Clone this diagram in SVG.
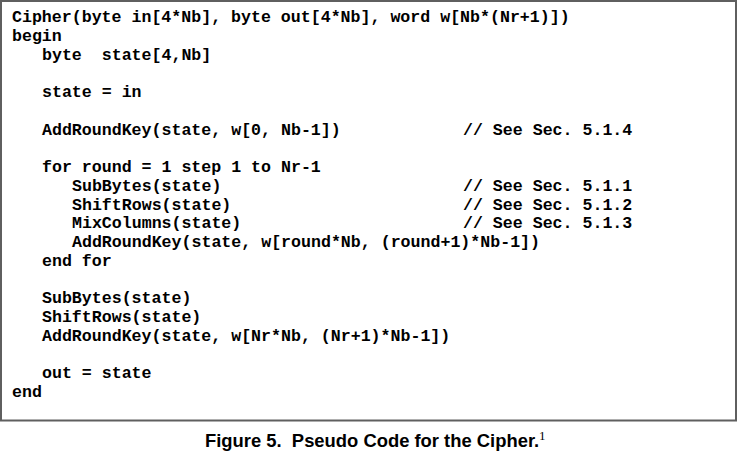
<svg xmlns="http://www.w3.org/2000/svg" width="738" height="453" viewBox="0 0 738 453">
<style>
.c{font-family:"Liberation Mono","Courier New",monospace;font-weight:bold;font-size:16.6px;fill:#000;white-space:pre}
.cap{font-family:"Liberation Sans",Arial,sans-serif;font-weight:bold;font-size:18.4px;fill:#000}
.sup{font-family:"Liberation Serif","Times New Roman",serif;font-size:13px;fill:#000}
</style>
<rect width="738" height="453" fill="#fff"/>
<rect id="frame" x="1" y="1" width="735" height="419.5" fill="none" stroke="#5f5f5f" stroke-width="2"/>
<g id="code">
<text class="c" x="12" y="22">Cipher(byte in[4*Nb], byte out[4*Nb], word w[Nb*(Nr+1)])</text>
<text class="c" x="12" y="40.75">begin</text>
<text class="c" x="42" y="59.5">byte  state[4,Nb]</text>
<text class="c" x="42" y="97">state = in</text>
<text class="c" x="42" y="134.5">AddRoundKey(state, w[0, Nb-1])</text>
<text class="c" x="463" y="134.5">// See Sec. 5.1.4</text>
<text class="c" x="42" y="172">for round = 1 step 1 to Nr-1</text>
<text class="c" x="72" y="190.75">SubBytes(state)</text>
<text class="c" x="463" y="190.75">// See Sec. 5.1.1</text>
<text class="c" x="72" y="209.5">ShiftRows(state)</text>
<text class="c" x="463" y="209.5">// See Sec. 5.1.2</text>
<text class="c" x="72" y="228.25">MixColumns(state)</text>
<text class="c" x="463" y="228.25">// See Sec. 5.1.3</text>
<text class="c" x="72" y="247">AddRoundKey(state, w[round*Nb, (round+1)*Nb-1])</text>
<text class="c" x="42" y="265.75">end for</text>
<text class="c" x="42" y="303.25">SubBytes(state)</text>
<text class="c" x="42" y="322">ShiftRows(state)</text>
<text class="c" x="42" y="340.75">AddRoundKey(state, w[Nr*Nb, (Nr+1)*Nb-1])</text>
<text class="c" x="42" y="378.25">out = state</text>
<text class="c" x="12" y="397">end</text>
</g>
<g id="caption">
<text class="cap" x="205" y="447" style="white-space:pre">Figure 5.  Pseudo Code for the Cipher.</text>
<text class="sup" x="539" y="440">1</text>
</g>
</svg>
